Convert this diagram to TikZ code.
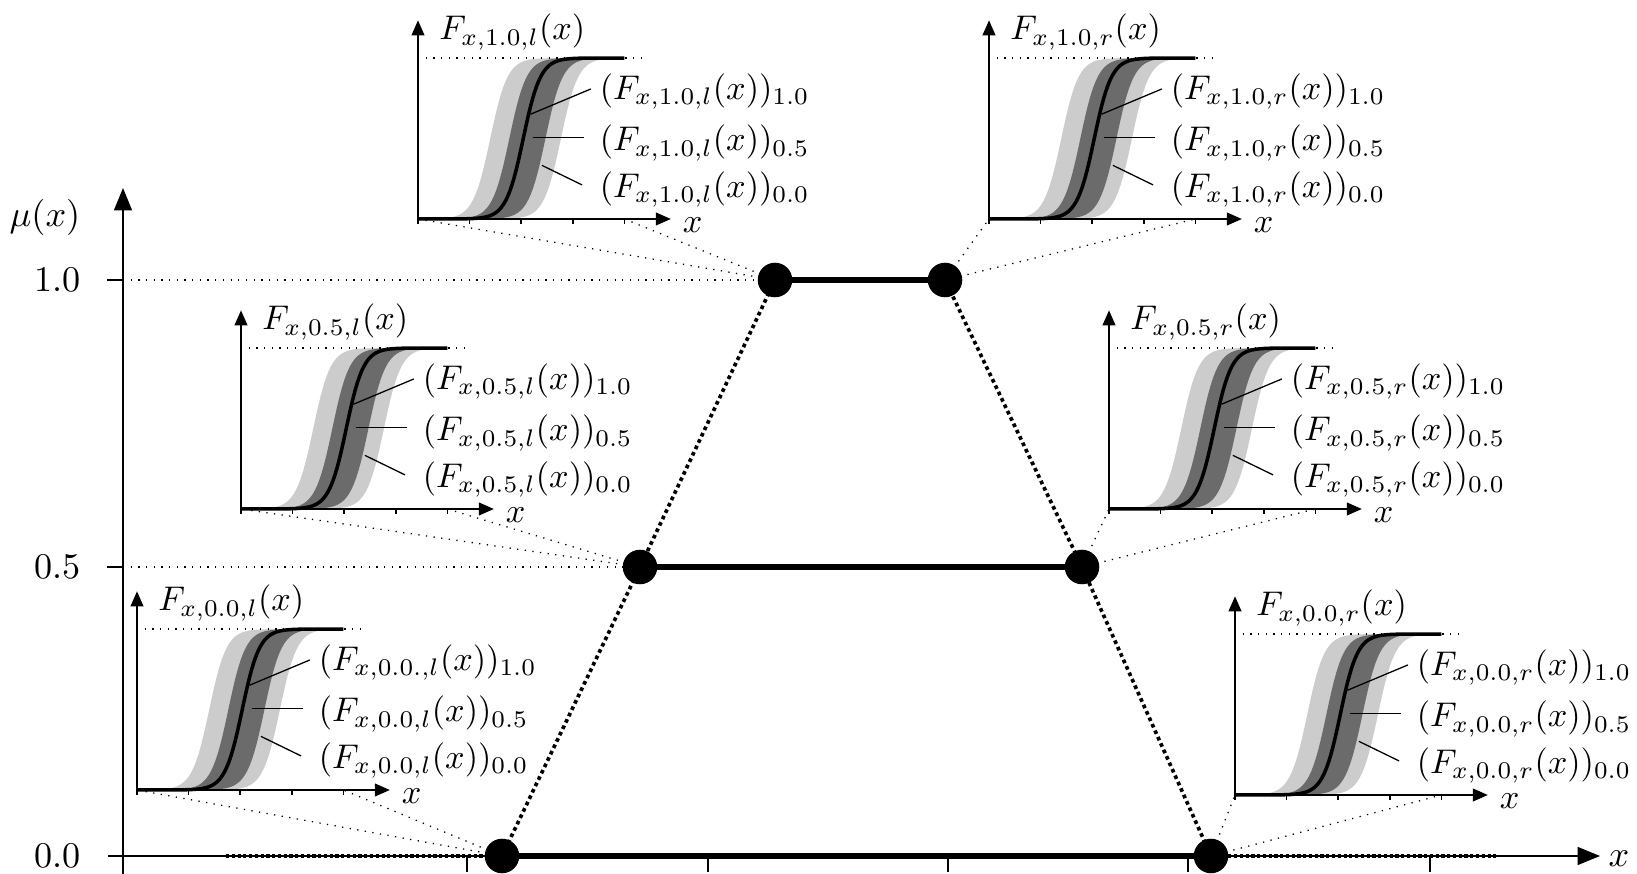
\documentclass[tikz,border=0pt]{standalone}
\usetikzlibrary{arrows.meta}
\definecolor{bandlight}{gray}{0.80}
\definecolor{banddark}{gray}{0.42}
\tikzset{
  axisline/.style={line width=0.5pt},
  bigtip/.style={-{Triangle[length=7pt,width=5.6pt]}},
  smalltip/.style={-{Triangle[length=4.7pt,width=4pt]}},
  guide/.style={dotted, line width=0.4pt},
  cutline/.style={line width=1.9pt},
  sidedots/.style={line width=1.15pt, dash pattern=on 1.15pt off 1.05pt},
  axisdots/.style={line width=1.3pt, dash pattern=on 1pt off 0.8pt},
  knot/.style={circle, fill=black, inner sep=0pt, minimum size=10.8pt},
  leader/.style={line width=0.4pt},
  cdf/.style={line width=1.1pt},
  lbl/.style={inner sep=0pt, scale=1.07, transform shape},
  mainlbl/.style={inner sep=0pt, scale=1.13, transform shape},
  declare function={sg(\s)=3.12/(1+exp(-6*max(-1.4,min(1.4,\s))));}
}
% one CDF panel: #1,#2 origin, #3 id, #4 level, #5 side, #6 level used in the first label
\newcommand{\cdfpanel}[6]{%
\begin{scope}[shift={(#1,#2)},x=16.125pt,y=16.125pt]
  \fill[bandlight] plot[domain=0.2:4,samples=80] (\x,{sg(\x-1.4)})
     -- plot[domain=4:0.2,samples=80] (\x,{sg(\x-2.77)}) -- cycle;
  \fill[banddark] plot[domain=0.5:4,samples=80] (\x,{sg(\x-1.77)})
     -- plot[domain=4:0.5,samples=80] (\x,{sg(\x-2.47)}) -- cycle;
  \draw[guide] (0,3.12) -- (4.42,3.12);
  \foreach \t in {0,...,4} \draw[axisline] (\t,0) -- (\t,-0.1);
  \coordinate (#3-o) at (0,0);
  \coordinate (#3-e) at (4,0);
  \coordinate (#3-xt) at (4.9,0);
  \coordinate (#3-yt) at (0,3.85);
  \draw[axisline,smalltip] (#3-o) -- (#3-xt);
  \draw[axisline,smalltip] (#3-o) -- (#3-yt);
  \draw[cdf] plot[domain=0:4,samples=100] (\x,{sg(\x-2.04)});
  \node[lbl,anchor=base west] (#3-F) at (0.4,3.47) {$F_{x,#4,#5}(x)$};
  \node[lbl,anchor=west] (#3-x) at (5.12,-0.12) {$x$};
  \node[lbl,anchor=base west] (#3-a) at (3.51,2.31) {$(F_{x,#6,#5}(x))_{1.0}$};
  \node[lbl,anchor=base west] (#3-b) at (3.51,1.32) {$(F_{x,#4,#5}(x))_{0.5}$};
  \node[lbl,anchor=base west] (#3-c) at (3.51,0.41) {$(F_{x,#4,#5}(x))_{0.0}$};
  \coordinate (#3-a1) at (2.18,2.03);  \coordinate (#3-a2) at (3.35,2.52);
  \coordinate (#3-b1) at (2.22,1.58); \coordinate (#3-b2) at (3.22,1.58);
  \coordinate (#3-c1) at (2.4,1.04);  \coordinate (#3-c2) at (3.18,0.66);
  \draw[leader] (#3-a1) -- (#3-a2);
  \draw[leader] (#3-b1) -- (#3-b2);
  \draw[leader] (#3-c1) -- (#3-c2);
\end{scope}}

\begin{document}
\begin{tikzpicture}[x=0.3125pt,y=-0.3125pt]
  \useasboundingbox (0,0) rectangle (1637,874);

  % main axes
  \coordinate (ybot) at (123,874);
  \coordinate (ytop) at (123,188);
  \coordinate (xleft) at (108,856);
  \coordinate (xright) at (1600,856);
  \draw[axisline,bigtip] (ybot) -- (ytop);
  \draw[axisline,bigtip] (xleft) -- (xright);
  \coordinate (yt10) at (123,280);
  \coordinate (yt05) at (123,567);
  \draw[axisline] (107,280) -- (yt10);
  \draw[axisline] (107,567) -- (yt05);
  \foreach \p in {467,708,948,1188,1430} \draw[axisline] (\p,856) -- (\p,872);

  \node[mainlbl,anchor=east] (lab10) at (81,280) {$1.0$};
  \node[mainlbl,anchor=east] (lab05) at (81,567) {$0.5$};
  \node[mainlbl,anchor=east] (lab00) at (81,856) {$0.0$};
  \node[mainlbl,anchor=east] (mulab) at (81,217) {$\mu(x)$};
  \node[mainlbl,anchor=west] (xlab) at (1608,859) {$x$};

  % CDF panels
  \cdfpanel{418}{219}{l10}{1.0}{l}{1.0}
  \cdfpanel{989}{219}{r10}{1.0}{r}{1.0}
  \cdfpanel{241}{509}{l05}{0.5}{l}{0.5}
  \cdfpanel{1109}{509}{r05}{0.5}{r}{0.5}
  \cdfpanel{137}{790}{l00}{0.0}{l}{0.0.}
  \cdfpanel{1235}{795}{r00}{0.0}{r}{0.0}

  % trapezoid corner points
  \coordinate (p-l00) at (502,856);
  \coordinate (p-r00) at (1211,856);
  \coordinate (p-l05) at (640,567);
  \coordinate (p-r05) at (1082,567);
  \coordinate (p-l10) at (775,280);
  \coordinate (p-r10) at (945,280);

  % guides from the mu axis
  \draw[guide] (yt10) -- (p-l10);
  \draw[guide] (yt05) -- (p-l05);

  % fans to the panels
  \foreach \k in {l00,r00,l05,r05,l10,r10} {
    \draw[guide] (p-\k) -- (\k-o);
    \draw[guide] (p-\k) -- (\k-e);
  }

  % support on the x axis
  \coordinate (sl) at (226,856);
  \coordinate (sr) at (1497,856);
  \draw[axisdots] (sl) -- (p-l00);
  \draw[axisdots] (p-r00) -- (sr);

  % sides of the trapezoid
  \draw[sidedots] (p-l00) -- (p-l05) -- (p-l10);
  \draw[sidedots] (p-r00) -- (p-r05) -- (p-r10);

  % level cuts
  \draw[cutline] (p-l10) -- (p-r10);
  \draw[cutline] (p-l05) -- (p-r05);
  \draw[cutline] (p-l00) -- (p-r00);

  \foreach \k in {l00,r00,l05,r05,l10,r10}
    \node[knot] (k-\k) at (p-\k) {};
\end{tikzpicture}
\end{document}
